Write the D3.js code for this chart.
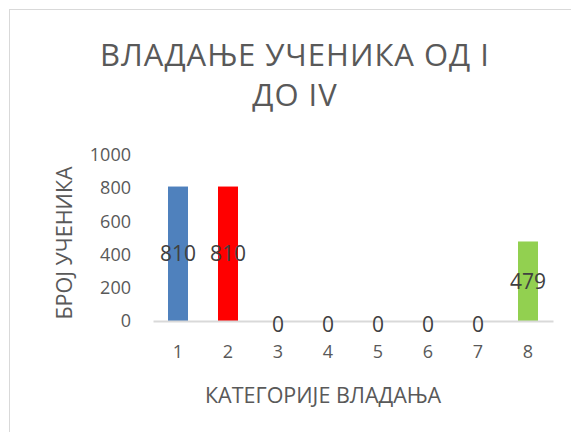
<!DOCTYPE html>
<html>
<head>
<meta charset="utf-8">
<script src="https://cdn.jsdelivr.net/npm/d3@7"></script>
<style>
  body { margin: 0; background: #fff; }
  text { font-family: "Open Sans", sans-serif; fill: #595959; }
</style>
</head>
<body>
<div id="chart"></div>
<script>
var categories = ["1", "2", "3", "4", "5", "6", "7", "8"];
var values = [810, 810, 0, 0, 0, 0, 0, 479];
var barColors = ["#4F81BD", "#FF0000", "#4F81BD", "#4F81BD", "#4F81BD", "#4F81BD", "#4F81BD", "#92D050"];
var yTicks = [0, 200, 400, 600, 800, 1000];
var titleLines = ["ВЛАДАЊЕ УЧЕНИКА ОД I", "ДО IV"];

var W = 571, H = 432;
var margin = {top: 155, left: 153, right: 18, bottom: 111};
var width = W - margin.left - margin.right,
    height = H - margin.top - margin.bottom;

var svg = d3.select("#chart").append("svg")
    .attr("width", W)
    .attr("height", H);

// outer chart border (right/bottom run off the picture)
svg.append("rect")
    .attr("x", 9.5).attr("y", 9.5)
    .attr("width", 700).attr("height", 600)
    .attr("fill", "none")
    .attr("stroke", "#D9D9D9");

svg.selectAll(".title")
    .data(titleLines)
  .enter().append("text")
    .attr("class", "title")
    .attr("x", 295)
    .attr("y", function(d, i) { return 66 + i * 40; })
    .attr("text-anchor", "middle")
    .style("font-size", "31px")
    .style("letter-spacing", "1px")
    .text(function(d) { return d; });

var g = svg.append("g")
    .attr("transform", "translate(" + margin.left + "," + margin.top + ")");

var x = d3.scaleBand()
    .domain(categories)
    .range([0, width])
    .paddingInner(0.6)
    .paddingOuter(0.3);

var y = d3.scaleLinear()
    .domain([0, 1000])
    .range([height, 0]);

var yAxis = d3.axisLeft(y).tickValues(yTicks).tickFormat(d3.format("d")).tickSize(0).tickPadding(22);
var yg = g.append("g").call(yAxis);
yg.select(".domain").remove();
yg.selectAll("text").style("font-size", "18px").attr("fill", "#595959");

g.selectAll(".bar")
    .data(values)
  .enter().append("rect")
    .attr("class", "bar")
    .attr("x", function(d, i) { return x(categories[i]); })
    .attr("y", function(d) { return y(d); })
    .attr("width", x.bandwidth())
    .attr("height", function(d) { return height - y(d); })
    .attr("fill", function(d, i) { return barColors[i]; });

var xAxis = d3.axisBottom(x).tickSize(0).tickPadding(24);
var xg = g.append("g")
    .attr("transform", "translate(0," + height + ")")
    .call(xAxis);
xg.select(".domain").attr("stroke", "#D9D9D9").attr("stroke-width", 2);
xg.selectAll("text").style("font-size", "18px").attr("fill", "#595959");

g.selectAll(".lbl")
    .data(values)
  .enter().append("text")
    .attr("class", "lbl")
    .attr("x", function(d, i) { return x(categories[i]) + x.bandwidth() / 2; })
    .attr("y", function(d) { return d > 0 ? y(d / 2) : y(0) + 4; })
    .attr("dy", "0.35em")
    .attr("text-anchor", "middle")
    .style("font-size", "21px")
    .style("fill", "#404040")
    .text(function(d) { return d; });

svg.append("text")
    .attr("x", 323)
    .attr("y", 403)
    .attr("text-anchor", "middle")
    .style("font-size", "21.5px")
    .text("КАТЕГОРИЈЕ ВЛАДАЊА");

svg.append("text")
    .attr("transform", "translate(72,243) rotate(-90)")
    .attr("text-anchor", "middle")
    .style("font-size", "21.5px")
    .text("БРОЈ УЧЕНИКА");
</script>
</body>
</html>
